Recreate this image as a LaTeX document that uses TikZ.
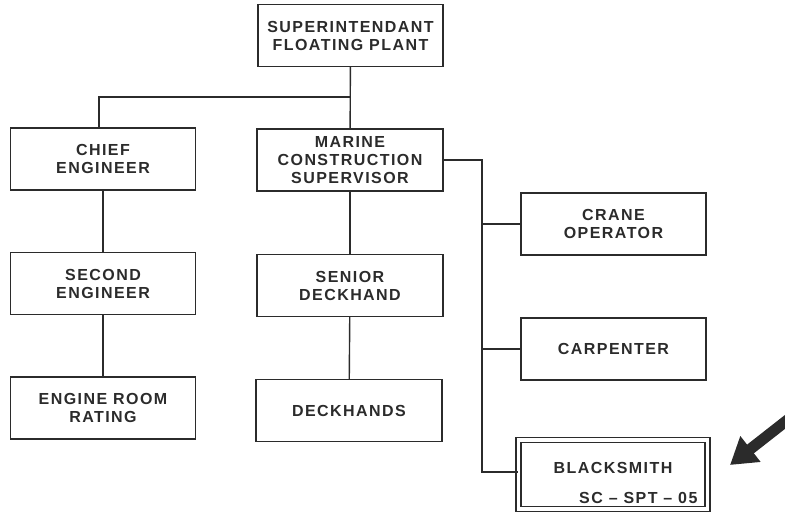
\documentclass[tikz,border=0pt]{standalone}
\usepackage{fontspec}
\setmainfont{Liberation Sans}[LetterSpace=9]
\usetikzlibrary{positioning,arrows.meta}
\definecolor{ink}{HTML}{2B2B2B}

\tikzset{
  post/.style={draw=ink,line width=1.4pt,minimum width=185pt,minimum height=62pt,
    align=center,inner sep=2pt,text=ink,font=\fontsize{16}{18}\selectfont\bfseries},
  tie/.style={draw=ink,line width=1.4pt}
}

\begin{document}
\begin{tikzpicture}[x=1pt,y=-1pt]
        \useasboundingbox (0,0) rectangle (785,519);
        % top of the chart
        \node[post] (super) at (350.5,35.5) {SUPERINTENDANT\\FLOATING PLANT};
        % engine room side
        \node[post] (chief) at (103,159) {CHIEF\\ENGINEER};
        \node[post] (second) at (103,283.5) {SECOND\\ENGINEER};
        \node[post] (rating) at (103,408) {ENGINE ROOM\\RATING};
        % deck side
        \node[post,minimum width=186pt] (marine) at (350,160) {MARINE\\CONSTRUCTION\\SUPERVISOR};
        \node[post,minimum width=186pt] (senior) at (350,285.5) {SENIOR\\DECKHAND};
        \node[post,minimum width=186pt] (hands) at (349,410.5) {DECKHANDS};
        % trades
        \node[post] (crane) at (613.5,224) {CRANE\\OPERATOR};
        \node[post] (carpenter) at (613.5,349) {CARPENTER};
        \node[post,minimum width=189pt,minimum height=69pt,line width=1.3pt,double,double distance=3.6pt,
          text height=12pt,text depth=15pt] (smith) at (613,474.5) {BLACKSMITH};
        \node[anchor=base east,inner sep=0pt,text=ink,font=\fontsize{16}{18}\selectfont\bfseries]
          (code) at ([xshift=-10.5pt,yshift=6.5pt]smith.south east) {SC -- SPT -- 05};

        \coordinate (fork) at (350,97);
        \coordinate (spine) at (482,472);

        \draw[tie] (super) -- (marine);
        \draw[tie] ([xshift=-4pt]chief.north) |- (fork);
        \draw[tie] (chief) -- (second);
        \draw[tie] (second) -- (rating);
        \draw[tie] (marine) -- (senior);
        \draw[tie] (senior) -- (hands);
        \draw[tie] (marine.east) -| (spine) -- (spine -| smith.west);
        \draw[tie] (crane.west) -- (crane.west -| spine);
        \draw[tie] (carpenter.west) -- (carpenter.west -| spine);

        % pointer at the blacksmith
        \coordinate (tail) at (790,418);
        \coordinate (tip) at (730,465);
        \draw[ink,line width=11pt,-{Triangle[length=26pt,width=31pt]}] (tail) -- (tip);
      \end{tikzpicture}
\end{document}
